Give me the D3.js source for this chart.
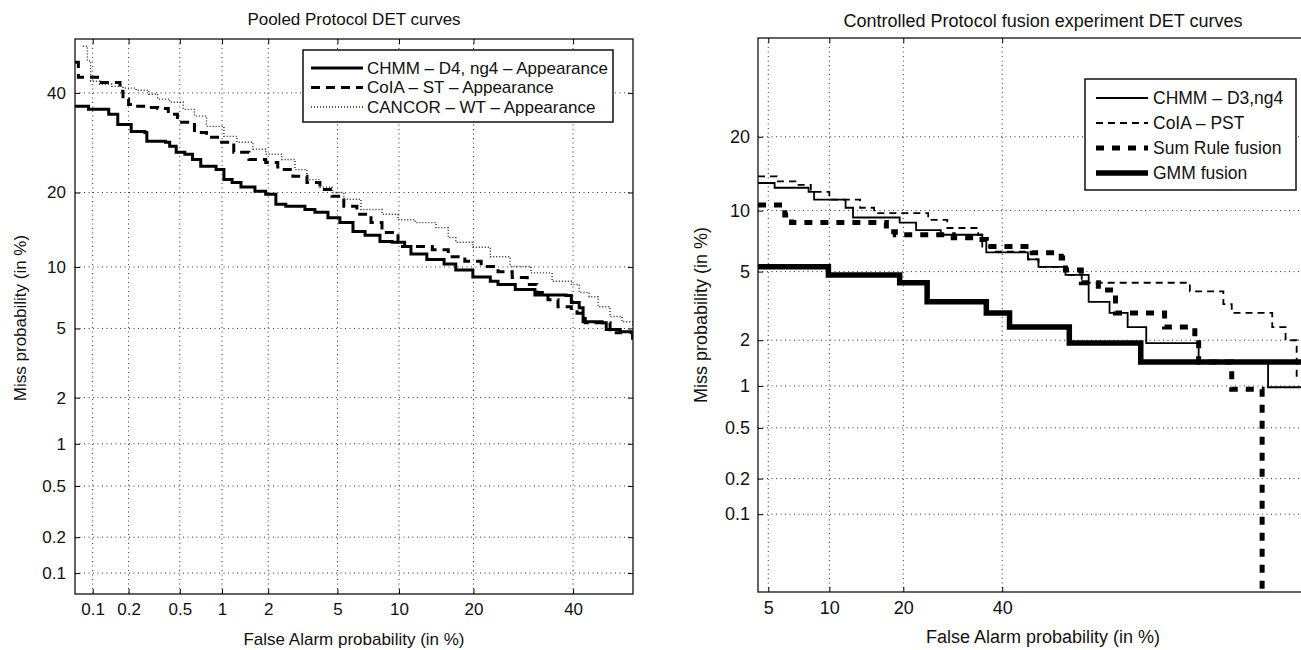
<!DOCTYPE html>
<html>
<head>
<meta charset="utf-8">
<script src="https://cdnjs.cloudflare.com/ajax/libs/d3/7.8.5/d3.min.js"></script>
<style>
  body { margin: 0; background: #fff; }
  svg { display: block; font-family: "Liberation Sans", Arial, Helvetica, sans-serif; }
</style>
</head>
<body>
<script>
// ---- data (percent values) ----
var leftTicks = [0.1, 0.2, 0.5, 1, 2, 5, 10, 20, 40];
var leftTickLabels = ['0.1', '0.2', '0.5', '1', '2', '5', '10', '20', '40'];
var rightXTicks = [5, 10, 20, 40];
var rightXTickLabels = ['5', '10', '20', '40'];
var rightYTicks = [0.1, 0.2, 0.5, 1, 2, 5, 10, 20];
var rightYTickLabels = ['0.1', '0.2', '0.5', '1', '2', '5', '10', '20'];

var leftNames = ['CHMM \u2013 D4, ng4 \u2013 Appearance', 'CoIA \u2013 ST \u2013 Appearance', 'CANCOR \u2013 WT \u2013 Appearance'];
var rightNames = ['CHMM \u2013 D3,ng4', 'CoIA \u2013 PST', 'Sum Rule fusion', 'GMM fusion'];

// [false alarm %, miss %]
var chmmPooled = [[0.070,37.0],[0.092,36.3],[0.137,35.2],[0.163,33.0],[0.21,31.5],[0.27,31.3],[0.28,29.5],[0.39,29.3],
  [0.42,28.5],[0.47,27.3],[0.545,26.9],[0.62,25.9],[0.71,24.6],[0.91,24.0],[1.03,22.2],[1.17,21.7],[1.34,20.9],
  [1.65,20.2],[1.93,19.7],[2.23,18.1],[2.56,17.8],[3.31,17.3],[3.77,16.9],[4.45,16.1],[5.15,15.4],[6.02,14.2],
  [6.92,13.7],[8.17,12.9],[9.3,12.8],[10.6,12.3],[11.3,11.4],[13.2,10.8],[15.5,10.3],[17.2,9.7],[19.9,9.0],
  [22.9,8.6],[24.3,8.3],[27.6,7.86],[31.6,7.4],[38.4,7.35],[39.6,6.8],[41.4,6.4],[42.3,5.42],[46.7,5.36],
  [47.7,4.93],[51.0,4.8],[53.6,4.75],[53.9,4.35]];
var coiaPooled = [[0.070,47.1],[0.075,43.6],[0.115,42.4],[0.17,40.4],[0.18,38.6],[0.20,37.4],[0.23,37.0],[0.29,36.7],
  [0.34,36.5],[0.41,35.2],[0.48,33.5],[0.64,31.3],[0.78,30.3],[0.97,29.3],[1.2,27.3],[1.51,25.9],[1.93,25.3],
  [2.29,24.0],[2.82,22.8],[3.4,21.7],[4.02,20.5],[4.68,19.4],[5.4,17.8],[6.3,16.6],[7.4,15.4],[8.35,14.05],
  [9.9,12.3],[11.8,12.3],[13.9,11.9],[16.1,11.1],[18.6,10.6],[21.3,10.05],[24.3,9.5],[27.0,8.95],[30.0,8.3],
  [32.0,7.6],[34.4,7.0],[36.6,6.47],[39.6,6.1],[40.9,6.0],[42.8,5.36],[48.6,4.75],[51.4,4.75]];
var cancorPooled = [[0.082,50.9],[0.09,47.4],[0.096,42.7],[0.115,42.0],[0.145,41.5],[0.18,41.1],[0.23,40.6],[0.29,39.7],
  [0.34,38.6],[0.42,37.9],[0.53,36.3],[0.64,34.8],[0.78,32.6],[1.03,30.5],[1.26,29.3],[1.6,27.9],[1.93,26.9],
  [2.42,25.9],[2.9,24.0],[3.4,22.2],[4.02,20.9],[4.68,20.0],[5.4,18.9],[6.6,17.3],[8.35,16.6],[9.9,15.8],
  [11.8,15.4],[14.4,14.7],[16.1,13.4],[17.2,12.8],[19.9,12.2],[22.9,11.1],[26.6,10.05],[30.8,9.4],[35.3,8.6],
  [39.6,8.3],[41.4,7.6],[43.7,7.25],[45.8,6.47],[48.6,5.77],[51.4,5.42],[54.0,5.2]];

var chmmFusion = [[4.4,13.2],[5.4,12.6],[8.0,12.1],[8.5,11.2],[11.8,10.3],[12.7,9.3],[19.4,8.8],[22.2,8.1],[26.8,7.7],
  [35.5,7.3],[36.4,6.3],[46.0,5.8],[48.5,5.3],[54.9,4.8],[60.3,3.4],[65.0,2.93],[68.9,2.41],[72.7,1.92],[82.0,1.43],
  [90.8,0.98],[96,0.98]];
var coiaFusion = [[4.4,14.05],[5.55,13.4],[6.9,12.97],[8.2,12.1],[10.0,11.2],[13.6,10.3],[15.5,9.74],[24.4,9.07],
  [28.1,8.3],[34.6,7.7],[35.5,6.74],[38.3,6.35],[46.0,5.8],[48.5,5.3],[54.9,4.8],[58.7,4.35],[80.6,3.9],[85.6,3.3],
  [86.7,2.93],[91.2,2.41],[92.4,2.0],[93.3,1.15],[96,1.15]];
var sumRuleFusion = [[4.4,10.6],[6.1,9.56],[6.6,8.8],[17.3,7.96],[18.7,7.7],[29.3,7.44],[34.6,7.3],[36.4,6.74],
  [47.0,6.26],[53.9,5.9],[54.9,5.1],[58.6,4.35],[62.5,3.97],[66.3,2.93],[76.2,2.41],[81.4,2.0],[82.0,1.45],
  [86.7,0.95],[90.2,0]];
var gmmFusion = [[4.4,5.3],[9.9,4.8],[19.4,4.35],[24.2,3.4],[36.4,2.93],[41.7,2.41],[55.8,1.92],[71.6,1.45],[96,1.45]];

// inverse normal cdf (Acklam) for the DET (normal deviate) axes
var probit = function(p) {
  if (p <= 0) return -Infinity;
  if (p >= 1) return Infinity;
  var a = [-39.69683028665376, 220.9460984245205, -275.9285104469687, 138.3577518672690, -30.66479806614716, 2.506628277459239];
  var b = [-54.47609879822406, 161.5858368580409, -155.6989798598866, 66.80131188771972, -13.28068155288572];
  var c = [-0.007784894002430293, -0.3223964580411365, -2.400758277161838, -2.549732539343734, 4.374664141464968, 2.938163982698783];
  var d = [0.007784695709041462, 0.3224671290700398, 2.445134137142996, 3.754408661907416];
  var q, r;
  if (p < 0.02425) {
    q = Math.sqrt(-2 * Math.log(p));
    return (((((c[0]*q+c[1])*q+c[2])*q+c[3])*q+c[4])*q+c[5]) / ((((d[0]*q+d[1])*q+d[2])*q+d[3])*q+1);
  }
  if (p <= 1 - 0.02425) {
    q = p - 0.5; r = q * q;
    return (((((a[0]*r+a[1])*r+a[2])*r+a[3])*r+a[4])*r+a[5])*q / (((((b[0]*r+b[1])*r+b[2])*r+b[3])*r+b[4])*r+1);
  }
  q = Math.sqrt(-2 * Math.log(1 - p));
  return -(((((c[0]*q+c[1])*q+c[2])*q+c[3])*q+c[4])*q+c[5]) / ((((d[0]*q+d[1])*q+d[2])*q+d[3])*q+1);
};
var pct = function(v) { return probit(v / 100); };

var svg = d3.select('body').append('svg').attr('width', 1301).attr('height', 650);

var drawPanel = function(p) {
  var x = d3.scaleLinear().domain([pct(p.xMin), pct(p.xMax)]).range([p.left, p.right]).clamp(true);
  var y = d3.scaleLinear().domain([pct(p.yMin), pct(p.yMax)]).range([p.bottom, p.top]).clamp(true);
  var g = svg.append('g');

  var clipId = 'clip' + p.id;
  g.append('clipPath').attr('id', clipId).append('rect')
    .attr('x', p.left).attr('y', p.top).attr('width', p.right - p.left).attr('height', p.bottom - p.top);

  // dotted grid
  g.selectAll('.gx').data(p.xTicks).enter().append('line')
    .attr('x1', function(d) { return x(pct(d)); }).attr('x2', function(d) { return x(pct(d)); })
    .attr('y1', p.top).attr('y2', p.bottom)
    .style('stroke', '#333').style('stroke-width', 1).style('stroke-dasharray', '1,3.5');
  g.selectAll('.gy').data(p.yTicks).enter().append('line')
    .attr('y1', function(d) { return y(pct(d)); }).attr('y2', function(d) { return y(pct(d)); })
    .attr('x1', p.left).attr('x2', p.right)
    .style('stroke', '#333').style('stroke-width', 1).style('stroke-dasharray', '1,3.5');

  // curves
  var line = d3.line()
    .x(function(d) { return x(pct(d[0])); })
    .y(function(d) { return y(pct(d[1])); })
    .curve(d3.curveStepAfter);
  p.series.forEach(function(s) {
    g.append('path').datum(s.data)
      .attr('clip-path', 'url(#' + clipId + ')')
      .attr('d', line)
      .style('fill', 'none').style('stroke', s.color || '#000')
      .style('stroke-width', s.width)
      .style('stroke-dasharray', s.dash || null);
  });

  // axes with inward ticks
  var axes = [
    g.append('g').attr('transform', 'translate(0,' + p.bottom + ')')
      .call(d3.axisBottom(x).tickValues(p.xTicks.map(pct)).tickFormat(function(d, i) { return p.xLabels[i]; })
        .tickSizeInner(-5).tickSizeOuter(0).tickPadding(p.xPad)),
    g.append('g').attr('transform', 'translate(0,' + p.top + ')')
      .call(d3.axisTop(x).tickValues(p.xTicks.map(pct)).tickFormat('').tickSizeInner(-5).tickSizeOuter(0)),
    g.append('g').attr('transform', 'translate(' + p.left + ',0)')
      .call(d3.axisLeft(y).tickValues(p.yTicks.map(pct)).tickFormat(function(d, i) { return p.yLabels[i]; })
        .tickSizeInner(-5).tickSizeOuter(0).tickPadding(p.yPad)),
    g.append('g').attr('transform', 'translate(' + p.right + ',0)')
      .call(d3.axisRight(y).tickValues(p.yTicks.map(pct)).tickFormat('').tickSizeInner(-5).tickSizeOuter(0))
  ];
  axes.forEach(function(a) {
    a.select('.domain').remove();
    a.selectAll('line').style('stroke', '#000').style('stroke-width', 1);
    a.selectAll('text').style('font-size', p.fontSize + 'px').style('fill', '#111')
      .style('font-family', '"Liberation Sans", Arial, sans-serif');
  });

  // frame
  g.append('rect').attr('x', p.left).attr('y', p.top)
    .attr('width', p.right - p.left).attr('height', p.bottom - p.top)
    .style('fill', 'none').style('stroke', '#111').style('stroke-width', 1.3);

  // labels
  g.append('text').attr('x', p.titleX).attr('y', p.titleY).attr('text-anchor', 'middle')
    .style('font-size', p.fontSize + 'px').style('fill', '#111').text(p.title);
  g.append('text').attr('x', p.titleX).attr('y', p.xLabelY).attr('text-anchor', 'middle')
    .style('font-size', p.fontSize + 'px').style('fill', '#111').text('False Alarm probability (in %)');
  g.append('text').attr('transform', 'translate(' + p.yLabelX + ',' + p.yLabelY + ') rotate(-90)')
    .attr('text-anchor', 'middle')
    .style('font-size', p.fontSize + 'px').style('fill', '#111').text('Miss probability (in %)');

  // legend
  var L = p.legend;
  var lg = g.append('g');
  lg.append('rect').attr('x', L.x0).attr('y', L.y0).attr('width', L.x1 - L.x0).attr('height', L.y1 - L.y0)
    .style('fill', '#fff').style('stroke', '#111').style('stroke-width', 1.5);
  p.series.forEach(function(s, i) {
    var ry = L.firstRow + i * L.rowGap;
    lg.append('line').attr('x1', L.lineX0).attr('x2', L.lineX1).attr('y1', ry).attr('y2', ry)
      .style('stroke', s.color || '#000').style('stroke-width', s.width).style('stroke-dasharray', s.dash || null);
    lg.append('text').attr('x', L.textX).attr('y', ry).attr('dy', '0.35em')
      .style('font-size', L.fontSize + 'px').style('fill', '#111').text(p.names[i]);
  });
};

drawPanel({
  id: 'L', left: 75, right: 633, top: 39, bottom: 594,
  xMin: 0.07, xMax: 54, yMin: 0.0655, yMax: 52.6,
  xTicks: leftTicks, xLabels: leftTickLabels, yTicks: leftTicks, yLabels: leftTickLabels,
  xPad: 9, yPad: 9, fontSize: 17,
  title: 'Pooled Protocol DET curves', titleX: 354, titleY: 25, xLabelY: 645, yLabelX: 26, yLabelY: 318,
  names: leftNames,
  series: [
    { data: chmmPooled, width: 3 },
    { data: coiaPooled, width: 3, dash: '9,6' },
    { data: cancorPooled, width: 1.4, dash: '1,2', color: '#222' }
  ],
  legend: { x0: 303, x1: 613, y0: 50, y1: 122, firstRow: 68, rowGap: 19.5, lineX0: 311, lineX1: 363, textX: 367, fontSize: 17 }
});

drawPanel({
  id: 'R', left: 758, right: 1328, top: 38, bottom: 592,
  xMin: 4.4, xMax: 95.4, yMin: 0.019, yMax: 40,
  xTicks: rightXTicks, xLabels: rightXTickLabels, yTicks: rightYTicks, yLabels: rightYTickLabels,
  xPad: 9, yPad: 8, fontSize: 18,
  title: 'Controlled Protocol fusion experiment DET curves', titleX: 1043, titleY: 27, xLabelY: 643, yLabelX: 707, yLabelY: 315,
  names: rightNames,
  series: [
    { data: chmmFusion, width: 1.8 },
    { data: coiaFusion, width: 1.8, dash: '7,5' },
    { data: sumRuleFusion, width: 5, dash: '8,8' },
    { data: gmmFusion, width: 5.5 }
  ],
  legend: { x0: 1085, x1: 1296, y0: 79, y1: 190, firstRow: 98, rowGap: 25, lineX0: 1096, lineX1: 1148, textX: 1153, fontSize: 17.5 }
});
</script>
</body>
</html>
